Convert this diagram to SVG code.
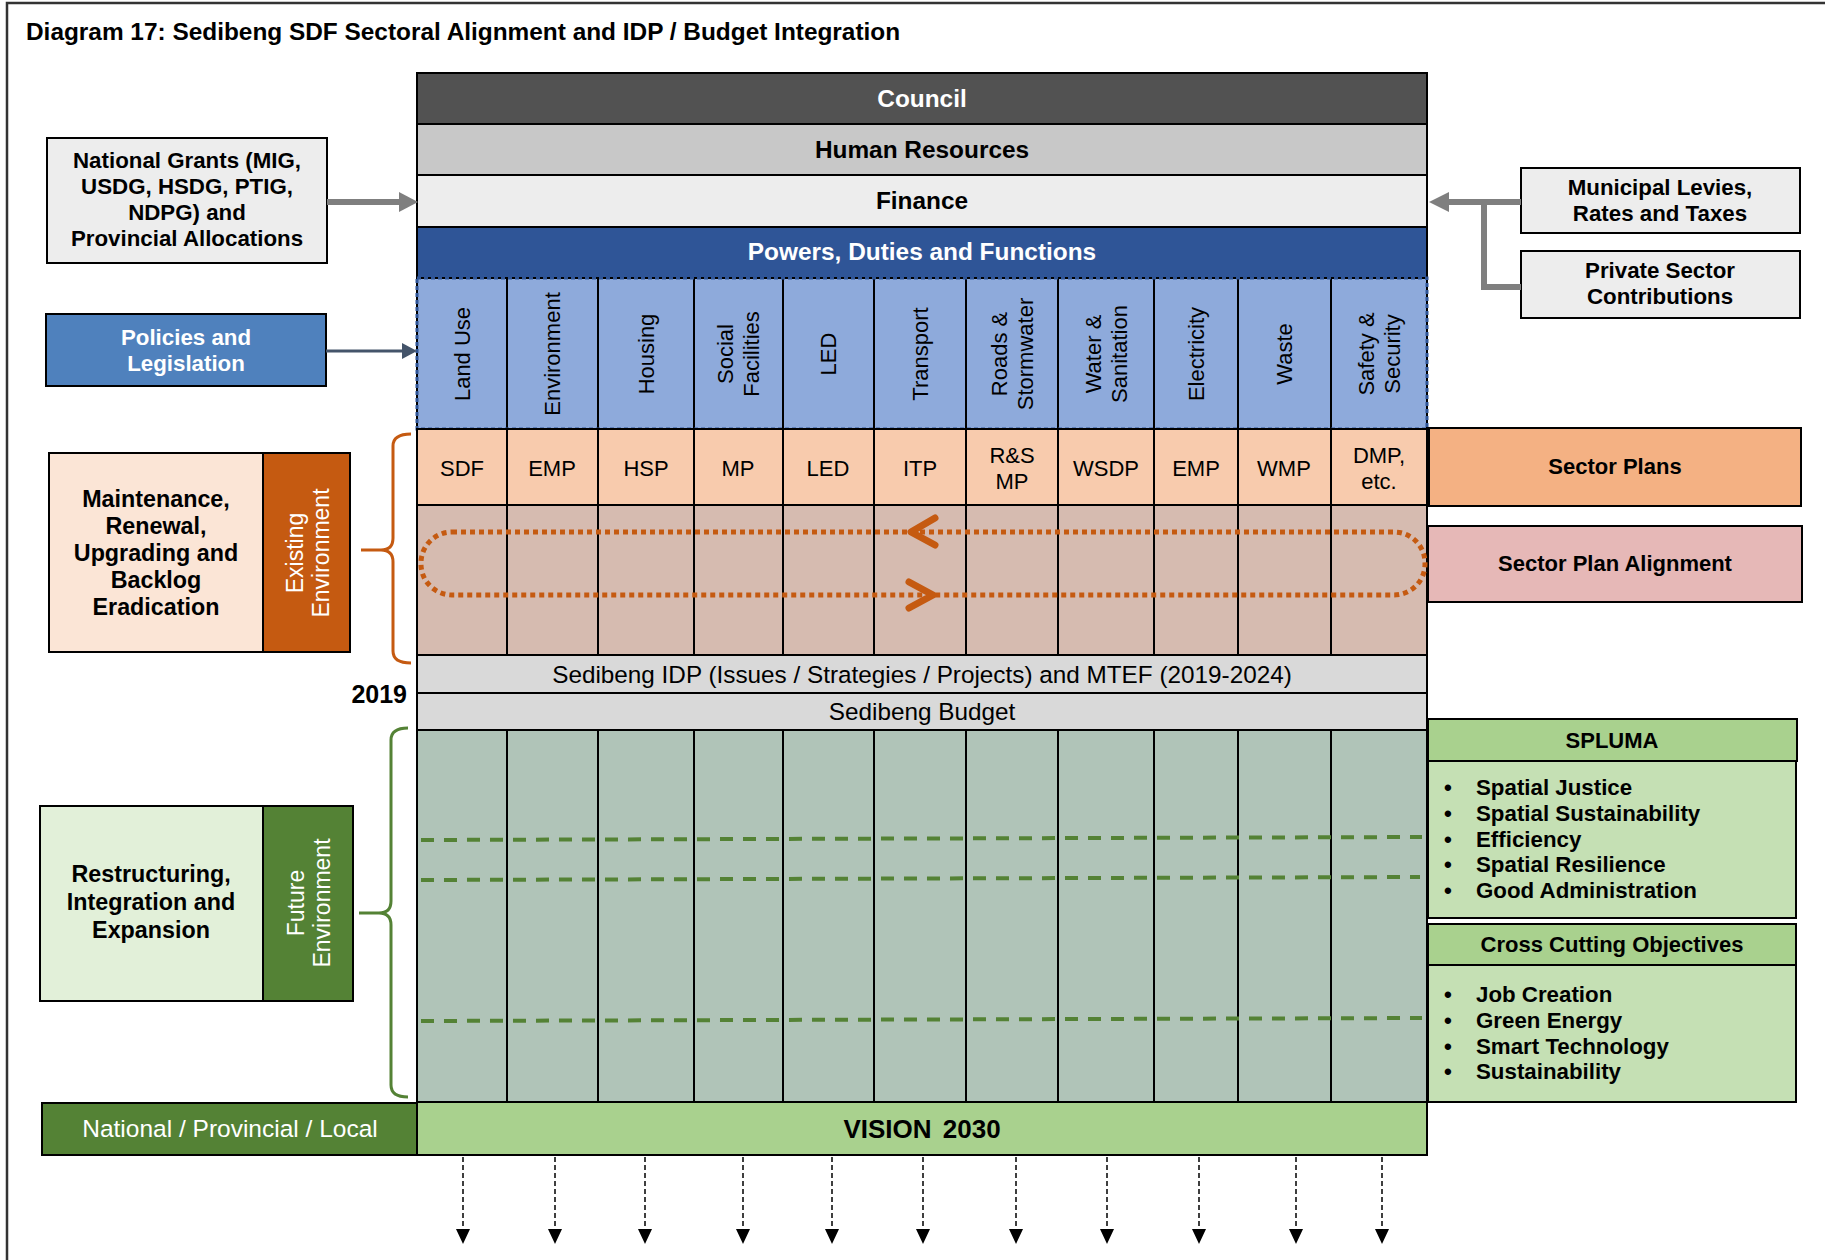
<svg xmlns="http://www.w3.org/2000/svg" width="1825" height="1260" viewBox="0 0 1825 1260">
<style>
text{font-family:"Liberation Sans",Arial,Helvetica,sans-serif;}
.b{font-weight:bold;}
.c{text-anchor:middle;}
.fb{font-size:22.3px;}
.f22{font-size:22px;}
.fm{font-size:23.3px;}
.fh{font-size:24.4px;}
.fr{font-size:24.3px;}
.w{fill:#fff;}
.bx{stroke:#000;stroke-width:2;}
.div{stroke:#000;stroke-width:2;}
.vt{font-size:22px;text-anchor:middle;dominant-baseline:central;}
</style>
<rect x="0" y="0" width="1825" height="1260" fill="#fff"/>
<path d="M7,1260 V3 H1825" fill="none" stroke="#333" stroke-width="2.5"/>
<text id="title" x="26" y="40" class="b" font-size="24.4">Diagram 17: Sedibeng SDF Sectoral Alignment and IDP / Budget Integration</text>

<g id="council"><rect x="417" y="73" width="1010" height="51" fill="#525252" class="bx"/><text x="922" y="107" class="b c fh w">Council</text></g>
<g id="human-resources"><rect x="417" y="124" width="1010" height="51" fill="#c8c8c8" class="bx"/><text x="922" y="158" class="b c fh">Human Resources</text></g>
<g id="finance"><rect x="417" y="175" width="1010" height="52" fill="#ededed" class="bx"/><text x="922" y="209" class="b c fh">Finance</text></g>
<g id="powers"><rect x="417" y="227" width="1010" height="51" fill="#2f5597" class="bx"/><text x="922" y="260" class="b c fh w">Powers, Duties and Functions</text></g>

<g id="sectors">
<rect x="417" y="278" width="1010" height="151" fill="#8eaadb"/>
<g class="div">
<line x1="507" y1="278" x2="507" y2="429"/><line x1="598" y1="278" x2="598" y2="429"/><line x1="694" y1="278" x2="694" y2="429"/><line x1="783" y1="278" x2="783" y2="429"/><line x1="874" y1="278" x2="874" y2="429"/><line x1="966" y1="278" x2="966" y2="429"/><line x1="1058" y1="278" x2="1058" y2="429"/><line x1="1154" y1="278" x2="1154" y2="429"/><line x1="1238" y1="278" x2="1238" y2="429"/><line x1="1331" y1="278" x2="1331" y2="429"/>
</g>
<rect x="417" y="278" width="1010" height="151" fill="none" stroke="#000" stroke-width="2"/>
<rect x="417" y="278" width="1010" height="151" fill="none" stroke="#2f5597" stroke-width="3" stroke-dasharray="4 3"/>
<text class="vt" transform="translate(462,354) rotate(-90)">Land Use</text>
<text class="vt" transform="translate(552,354) rotate(-90)">Environment</text>
<text class="vt" transform="translate(646,354) rotate(-90)">Housing</text>
<text class="vt" transform="translate(738,354) rotate(-90)"><tspan x="0" y="-13">Social</tspan><tspan x="0" y="13">Facilities</tspan></text>
<text class="vt" transform="translate(828,354) rotate(-90)">LED</text>
<text class="vt" transform="translate(920,354) rotate(-90)">Transport</text>
<text class="vt" transform="translate(1012,354) rotate(-90)"><tspan x="0" y="-13">Roads &amp;</tspan><tspan x="0" y="13">Stormwater</tspan></text>
<text class="vt" transform="translate(1106,354) rotate(-90)"><tspan x="0" y="-13">Water &amp;</tspan><tspan x="0" y="13">Sanitation</tspan></text>
<text class="vt" transform="translate(1196,354) rotate(-90)">Electricity</text>
<text class="vt" transform="translate(1284,354) rotate(-90)">Waste</text>
<text class="vt" transform="translate(1379,354) rotate(-90)"><tspan x="0" y="-13">Safety &amp;</tspan><tspan x="0" y="13">Security</tspan></text>
</g>

<g id="sector-plan-row">
<rect x="417" y="429" width="1010" height="76" fill="#f8cbad" class="bx"/>
<g class="div">
<line x1="507" y1="429" x2="507" y2="505"/><line x1="598" y1="429" x2="598" y2="505"/><line x1="694" y1="429" x2="694" y2="505"/><line x1="783" y1="429" x2="783" y2="505"/><line x1="874" y1="429" x2="874" y2="505"/><line x1="966" y1="429" x2="966" y2="505"/><line x1="1058" y1="429" x2="1058" y2="505"/><line x1="1154" y1="429" x2="1154" y2="505"/><line x1="1238" y1="429" x2="1238" y2="505"/><line x1="1331" y1="429" x2="1331" y2="505"/>
</g>
<g class="c f22">
<text x="462" y="476">SDF</text><text x="552" y="476">EMP</text><text x="646" y="476">HSP</text><text x="738" y="476">MP</text><text x="828" y="476">LED</text><text x="920" y="476">ITP</text>
<text x="1012" y="463">R&amp;S</text><text x="1012" y="489">MP</text>
<text x="1106" y="476">WSDP</text><text x="1196" y="476">EMP</text><text x="1284" y="476">WMP</text>
<text x="1379" y="463">DMP,</text><text x="1379" y="489">etc.</text>
</g>
</g>

<g id="alignment-row">
<rect x="417" y="505" width="1010" height="150" fill="#d6bbb0" class="bx"/>
<g class="div">
<line x1="507" y1="505" x2="507" y2="655"/><line x1="598" y1="505" x2="598" y2="655"/><line x1="694" y1="505" x2="694" y2="655"/><line x1="783" y1="505" x2="783" y2="655"/><line x1="874" y1="505" x2="874" y2="655"/><line x1="966" y1="505" x2="966" y2="655"/><line x1="1058" y1="505" x2="1058" y2="655"/><line x1="1154" y1="505" x2="1154" y2="655"/><line x1="1238" y1="505" x2="1238" y2="655"/><line x1="1331" y1="505" x2="1331" y2="655"/>
</g>
</g>

<g id="idp"><rect x="417" y="655" width="1010" height="38" fill="#d9d9d9" class="bx"/><text x="922" y="683" class="c fr">Sedibeng IDP (Issues / Strategies / Projects) and MTEF (2019-2024)</text></g>
<g id="budget"><rect x="417" y="693" width="1010" height="37" fill="#d9d9d9" class="bx"/><text x="922" y="720" class="c fr">Sedibeng Budget</text></g>

<g id="future-grid">
<rect x="417" y="730" width="1010" height="372" fill="#b0c4b8" class="bx"/>
<g class="div">
<line x1="507" y1="730" x2="507" y2="1102"/><line x1="598" y1="730" x2="598" y2="1102"/><line x1="694" y1="730" x2="694" y2="1102"/><line x1="783" y1="730" x2="783" y2="1102"/><line x1="874" y1="730" x2="874" y2="1102"/><line x1="966" y1="730" x2="966" y2="1102"/><line x1="1058" y1="730" x2="1058" y2="1102"/><line x1="1154" y1="730" x2="1154" y2="1102"/><line x1="1238" y1="730" x2="1238" y2="1102"/><line x1="1331" y1="730" x2="1331" y2="1102"/>
</g>
</g>

<g id="vision"><rect x="417" y="1102" width="1010" height="53" fill="#a9d18e" class="bx"/><text x="922" y="1138" class="b c" font-size="26" word-spacing="4">VISION 2030</text></g>

<g id="national-grants"><rect x="47" y="138" width="280" height="125" fill="#ededed" class="bx"/>
<text class="b c fb"><tspan x="187" y="168">National Grants (MIG,</tspan><tspan x="187" y="194">USDG, HSDG, PTIG,</tspan><tspan x="187" y="220">NDPG) and</tspan><tspan x="187" y="246">Provincial Allocations</tspan></text></g>
<g id="policies"><rect x="46" y="314" width="280" height="72" fill="#4f81bd" class="bx"/>
<text class="b c fb w"><tspan x="186" y="345">Policies and</tspan><tspan x="186" y="371">Legislation</tspan></text></g>
<g id="existing"><rect x="49" y="453" width="214" height="199" fill="#fbe5d6" class="bx"/><rect x="263" y="453" width="87" height="199" fill="#c55a11" class="bx"/>
<text class="b c fm"><tspan x="156" y="507">Maintenance,</tspan><tspan x="156" y="534">Renewal,</tspan><tspan x="156" y="561">Upgrading and</tspan><tspan x="156" y="588">Backlog</tspan><tspan x="156" y="615">Eradication</tspan></text>
<text class="w" font-size="23" text-anchor="middle" dominant-baseline="central" transform="translate(308,553) rotate(-90)"><tspan x="0" y="-13">Existing</tspan><tspan x="0" y="13">Environment</tspan></text></g>
<text id="year-2019" x="407" y="703" class="b" font-size="25" text-anchor="end">2019</text>
<g id="future"><rect x="40" y="806" width="223" height="195" fill="#e2f0d9" class="bx"/><rect x="263" y="806" width="90" height="195" fill="#548235" class="bx"/>
<text class="b c fm"><tspan x="151" y="882">Restructuring,</tspan><tspan x="151" y="910">Integration and</tspan><tspan x="151" y="938">Expansion</tspan></text>
<text class="w" font-size="23" text-anchor="middle" dominant-baseline="central" transform="translate(309,903) rotate(-90)"><tspan x="0" y="-13">Future</tspan><tspan x="0" y="13">Environment</tspan></text></g>
<g id="levels"><rect x="42" y="1103" width="375" height="52" fill="#548235" class="bx"/><text x="230" y="1137" class="c w" font-size="24.5">National / Provincial / Local</text></g>

<g id="municipal-levies"><rect x="1521" y="168" width="279" height="65" fill="#ededed" class="bx"/>
<text class="b c fb"><tspan x="1660" y="195">Municipal Levies,</tspan><tspan x="1660" y="221">Rates and Taxes</tspan></text></g>
<g id="private-sector"><rect x="1521" y="251" width="279" height="67" fill="#ededed" class="bx"/>
<text class="b c fb"><tspan x="1660" y="278">Private Sector</tspan><tspan x="1660" y="304">Contributions</tspan></text></g>
<g id="sector-plans"><rect x="1429" y="428" width="372" height="78" fill="#f4b183" class="bx"/><text x="1615" y="474" class="b c f22">Sector Plans</text></g>
<g id="sector-plan-alignment"><rect x="1428" y="526" width="374" height="76" fill="#e6b8b7" class="bx"/><text x="1615" y="571" class="b c f22">Sector Plan Alignment</text></g>
<g id="spluma"><rect x="1428" y="719" width="369" height="42" fill="#a9d18e" class="bx"/><text x="1612" y="748" class="b c f22">SPLUMA</text>
<rect x="1428" y="761" width="368" height="157" fill="#c5e0b4" class="bx"/>
<g class="b fb"><text x="1444" y="795">•</text><text x="1476" y="795">Spatial Justice</text>
<text x="1444" y="821">•</text><text x="1476" y="821">Spatial Sustainability</text>
<text x="1444" y="847">•</text><text x="1476" y="847">Efficiency</text>
<text x="1444" y="872">•</text><text x="1476" y="872">Spatial Resilience</text>
<text x="1444" y="898">•</text><text x="1476" y="898">Good Administration</text></g></g>
<g id="cross-cutting"><rect x="1428" y="924" width="368" height="41" fill="#a9d18e" class="bx"/><text x="1612" y="952" class="b c f22">Cross Cutting Objectives</text>
<rect x="1428" y="965" width="368" height="137" fill="#c5e0b4" class="bx"/>
<g class="b fb"><text x="1444" y="1002">•</text><text x="1476" y="1002">Job Creation</text>
<text x="1444" y="1028">•</text><text x="1476" y="1028">Green Energy</text>
<text x="1444" y="1054">•</text><text x="1476" y="1054">Smart Technology</text>
<text x="1444" y="1079">•</text><text x="1476" y="1079">Sustainability</text></g></g>

<g id="connectors">
<line x1="327" y1="202" x2="400" y2="202" stroke="#7f7f7f" stroke-width="6"/>
<polygon points="399,192 418,202 399,212" fill="#7f7f7f"/>
<line x1="326" y1="351" x2="404" y2="351" stroke="#44546a" stroke-width="3"/>
<polygon points="402,343 417,351 402,359" fill="#44546a"/>
<path d="M1521,202 H1448 M1484,202 V287 H1521" fill="none" stroke="#7f7f7f" stroke-width="6"/>
<polygon points="1449,192 1429,202 1449,212" fill="#7f7f7f"/>
<path d="M411,434 Q393,434 393,446 V538 Q393,550 381,550 H361 M381,550 Q393,550 393,562 V651 Q393,663 411,663" fill="none" stroke="#c55a11" stroke-width="3"/>
<path d="M408,728 Q391,728 391,740 V901 Q391,913 379,913 H359 M379,913 Q391,913 391,925 V1085 Q391,1097 408,1097" fill="none" stroke="#548235" stroke-width="3"/>
<rect x="421" y="532" width="1004" height="63" rx="31" fill="none" stroke="#c55a11" stroke-width="5" stroke-dasharray="5 4"/>
<polyline points="935,518 911,532 935,545" fill="none" stroke="#c55a11" stroke-width="7" stroke-linecap="round" stroke-linejoin="round"/>
<polyline points="909,582 933,595 909,608" fill="none" stroke="#c55a11" stroke-width="7" stroke-linecap="round" stroke-linejoin="round"/>
<g stroke="#548235" stroke-width="4" stroke-dasharray="13 10">
<line x1="421" y1="840" x2="1422" y2="837"/>
<line x1="421" y1="880" x2="1420" y2="877"/>
<line x1="421" y1="1021" x2="1422" y2="1018"/>
</g>
<g stroke="#000" stroke-width="1.5" stroke-dasharray="5 3">
<line x1="463" y1="1157" x2="463" y2="1232"/><line x1="555" y1="1157" x2="555" y2="1232"/><line x1="645" y1="1157" x2="645" y2="1232"/><line x1="743" y1="1157" x2="743" y2="1232"/><line x1="832" y1="1157" x2="832" y2="1232"/><line x1="923" y1="1157" x2="923" y2="1232"/><line x1="1016" y1="1157" x2="1016" y2="1232"/><line x1="1107" y1="1157" x2="1107" y2="1232"/><line x1="1199" y1="1157" x2="1199" y2="1232"/><line x1="1296" y1="1157" x2="1296" y2="1232"/><line x1="1382" y1="1157" x2="1382" y2="1232"/>
</g>
<g fill="#000">
<polygon points="456,1229 470,1229 463,1244"/><polygon points="548,1229 562,1229 555,1244"/><polygon points="638,1229 652,1229 645,1244"/><polygon points="736,1229 750,1229 743,1244"/><polygon points="825,1229 839,1229 832,1244"/><polygon points="916,1229 930,1229 923,1244"/><polygon points="1009,1229 1023,1229 1016,1244"/><polygon points="1100,1229 1114,1229 1107,1244"/><polygon points="1192,1229 1206,1229 1199,1244"/><polygon points="1289,1229 1303,1229 1296,1244"/><polygon points="1375,1229 1389,1229 1382,1244"/>
</g>
</g>
</svg>
